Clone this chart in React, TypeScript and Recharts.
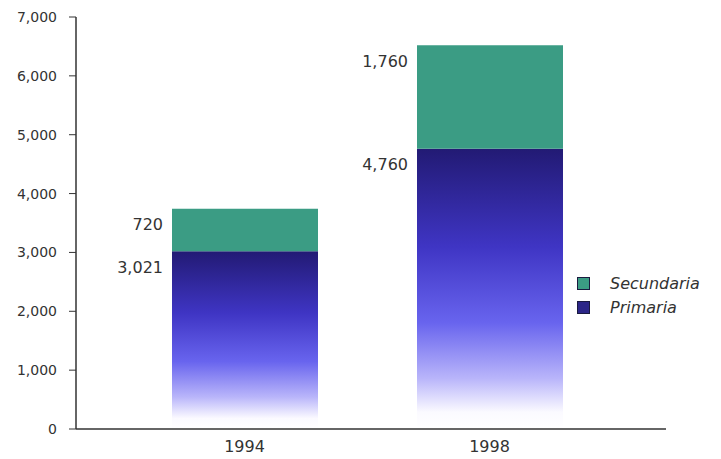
import React from 'react';
import { BarChart, Bar, XAxis, YAxis, Legend, LabelList } from 'recharts';

const years = ['1994', '1998'];
const primaria = [3021, 4760];
const secundaria = [720, 1760];
const yTicks = [0, 1000, 2000, 3000, 4000, 5000, 6000, 7000];

const data = years.map((year, i) => ({
  year,
  primaria: primaria[i],
  secundaria: secundaria[i],
}));

const fmt = (v: number) => v.toLocaleString('en-US');

const textColor = '#333';
const fontFamily = '"DejaVu Sans", sans-serif';

const SideLabel = (props: any) => {
  const { x, y, value } = props;
  return (
    <text
      x={x - 9}
      y={y + 17}
      textAnchor="end"
      dominantBaseline="middle"
      fontSize={16}
      fill={textColor}
      fontFamily={fontFamily}
    >
      {fmt(Number(value))}
    </text>
  );
};

const LegendBox = () => {
  const items = [
    { name: 'Secundaria', color: '#3b9c84' },
    { name: 'Primaria', color: '#2c2688' },
  ];
  return (
    <div style={{ fontFamily }}>
      {items.map((it) => (
        <div key={it.name} style={{ display: 'flex', alignItems: 'center', height: 24 }}>
          <span
            style={{
              display: 'inline-block',
              width: 11,
              height: 11,
              background: it.color,
              border: '1px solid #1a1a40',
              marginRight: 20,
            }}
          />
          <span style={{ fontStyle: 'italic', fontSize: 16, color: textColor }}>{it.name}</span>
        </div>
      ))}
    </div>
  );
};

export default function App() {
  return (
    <div style={{ position: 'absolute', left: 0, top: 0, background: '#fff' }}>
      <BarChart
        width={721}
        height={459}
        data={data}
        margin={{ top: 17, right: 55, bottom: 0, left: 0 }}
        barSize={146}
      >
        <defs>
          <linearGradient id="primGrad" x1="0" y1="0" x2="0" y2="1">
            <stop offset="0%" stopColor="#221a74" />
            <stop offset="35%" stopColor="#3f35c4" />
            <stop offset="62%" stopColor="#6864ee" />
            <stop offset="82%" stopColor="#b9b5fa" />
            <stop offset="94%" stopColor="#fbfaff" />
            <stop offset="100%" stopColor="#ffffff" />
          </linearGradient>
        </defs>
        <XAxis
          dataKey="year"
          height={30}
          padding={{ left: 46, right: 54 }}
          axisLine={{ stroke: '#333', strokeWidth: 1.5 }}
          tickLine={false}
          tick={{ fill: textColor, fontSize: 16, fontFamily }}
          tickMargin={6}
        />
        <YAxis
          width={76}
          domain={[0, 7000]}
          ticks={yTicks}
          interval={0}
          tickFormatter={fmt}
          axisLine={{ stroke: '#333', strokeWidth: 1.5 }}
          tickLine={{ stroke: '#333' }}
          tickSize={7}
          tickMargin={12}
          tick={{ fill: textColor, fontSize: 14, fontFamily }}
        />
        <Legend
          layout="vertical"
          align="center"
          verticalAlign="middle"
          wrapperStyle={{ left: 577, top: 271, width: 144 }}
          content={<LegendBox />}
        />
        <Bar dataKey="primaria" stackId="a" fill="url(#primGrad)" isAnimationActive={false} name="Primaria">
          <LabelList dataKey="primaria" content={<SideLabel />} />
        </Bar>
        <Bar dataKey="secundaria" stackId="a" fill="#3b9c84" isAnimationActive={false} name="Secundaria">
          <LabelList dataKey="secundaria" content={<SideLabel />} />
        </Bar>
      </BarChart>
    </div>
  );
}
